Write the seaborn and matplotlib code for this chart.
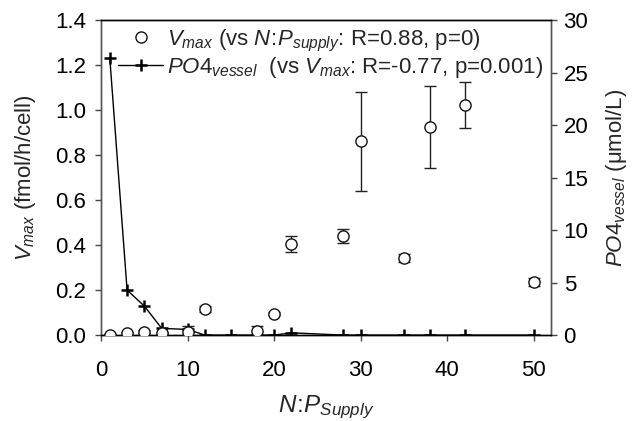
import matplotlib
matplotlib.use("Agg")
import matplotlib.pyplot as plt
import seaborn as sns
import pandas as pd
from matplotlib.lines import Line2D

# N:P supply ratios and measured responses
np_supply = [1, 3, 5, 7, 10, 12, 18, 20, 22, 28, 30, 35, 38, 42, 50]
vmax = [0.002, 0.010, 0.016, 0.009, 0.012, 0.116, 0.020, 0.095, 0.404, 0.440,
        0.862, 0.344, 0.923, 1.021, 0.236]
vmax_err = [0.004, 0.006, 0.006, 0.005, 0.030, 0.012, 0.020, 0.006, 0.036, 0.030,
            0.220, 0.018, 0.182, 0.103, 0.016]

po4_np = [1, 3, 5, 7, 10, 12, 15, 18, 20, 22, 28, 30, 35, 38, 42, 50]
po4_vessel = [26.4, 4.29, 2.76, 0.64, 0.54, 0.0, 0.0, 0.0, 0.0, 0.22, 0.0, 0.0,
              0.0, 0.0, 0.0, 0.0]

vmax_df = pd.DataFrame({"np": np_supply, "vmax": vmax, "err": vmax_err})
po4_df = pd.DataFrame({"np": po4_np, "po4": po4_vessel})

sns.set_theme(style="ticks")
plt.rcParams["font.family"] = ["Liberation Sans", "DejaVu Sans"]
plt.rcParams["mathtext.fontset"] = "custom"
plt.rcParams["mathtext.rm"] = "Liberation Sans"
plt.rcParams["mathtext.it"] = "Liberation Sans:italic"
plt.rcParams["mathtext.bf"] = "Liberation Sans:bold"

FS = 16
fig = plt.figure(figsize=(6.32, 4.21), dpi=100)
ax = fig.add_axes([0.160, 0.204, 0.712, 0.7485])
ax2 = ax.twinx()
# keep the Vmax circles above the PO4 trace
ax.set_zorder(ax2.get_zorder() + 1)
ax.patch.set_visible(False)

# PO4 in the vessel on the secondary axis
sns.lineplot(data=po4_df, x="np", y="po4", ax=ax2, color="black", linewidth=1.0,
             marker="+", markersize=9, markeredgewidth=1.8, markeredgecolor="black",
             legend=False)

# Vmax with error bars
ax.errorbar(vmax_df["np"], vmax_df["vmax"], yerr=vmax_df["err"], fmt="none",
            ecolor="#222222", elinewidth=1.0, capsize=4.5, capthick=1.0, zorder=2)
sns.scatterplot(data=vmax_df, x="np", y="vmax", ax=ax, marker="o", s=65,
                facecolor="white", edgecolor="#111111", linewidth=1.0,
                zorder=3, legend=False)

ax.set_xlim(0, 52)
ax.set_ylim(0, 1.4)
ax2.set_ylim(0, 30)
ax.set_xticks([0, 10, 20, 30, 40, 50])
ax.set_yticks([0.0, 0.2, 0.4, 0.6, 0.8, 1.0, 1.2, 1.4])
ax.set_yticklabels([f"{v:.1f}" for v in ax.get_yticks()])
ax2.set_yticks([0, 5, 10, 15, 20, 25, 30])

for a in (ax, ax2):
    a.tick_params(labelsize=FS, length=4, width=1.0, colors="#444444",
                  labelcolor="black")
    for side in ("left", "right", "top", "bottom"):
        a.spines[side].set_visible(True)
        a.spines[side].set_linewidth(1.0)
        a.spines[side].set_color("#555555")
    a.spines["top"].set_color("black")
    a.spines["bottom"].set_color("black")
ax.tick_params(axis="y", pad=7)
ax2.tick_params(axis="y", pad=5)
ax.tick_params(axis="x", pad=14)

ax.set_xlabel(r"$N\!:\!P_{Supply}$", fontsize=17.5, labelpad=9)
ax.set_ylabel(r"$V_{max}$ (fmol/h/cell)", fontsize=FS, labelpad=12)
ax2.set_ylabel(r"$PO4_{vessel}$ ($\mathrm{\mu}$mol/L)", fontsize=FS, labelpad=11)

handles = [
    Line2D([], [], linestyle="none", marker="o", markersize=8,
           markerfacecolor="white", markeredgecolor="#111111", markeredgewidth=1.0),
    Line2D([], [], color="black", linewidth=1.0, marker="+", markersize=9,
           markeredgewidth=1.8),
]
labels = [
    r"$V_{max}$ (vs $N\!:\!P_{supply}$: R=0.88, p=0)",
    r"$PO4_{vessel}$  (vs $V_{max}$: R=-0.77, p=0.001)",
]
ax2.legend(handles, labels, loc="upper left", bbox_to_anchor=(0.004, 1.025),
           frameon=False, fontsize=FS, handlelength=2.0, handletextpad=0.2,
           labelspacing=0.05, borderaxespad=0.3)

fig.savefig("out.png", dpi=100)
